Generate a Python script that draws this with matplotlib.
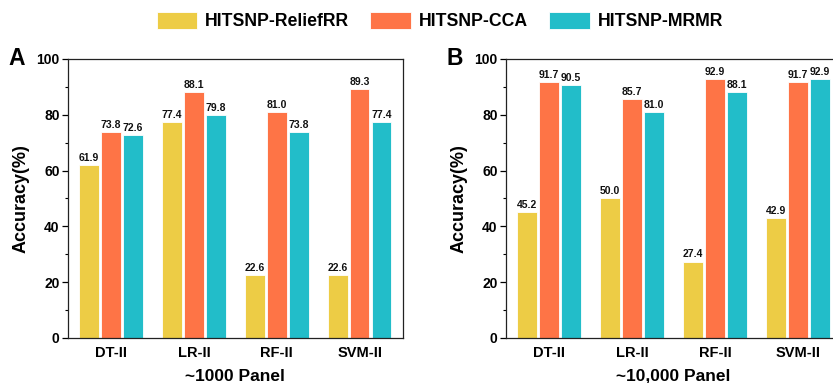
import numpy as np
import matplotlib
matplotlib.use("Agg")
import matplotlib.pyplot as plt
from matplotlib.ticker import MultipleLocator

plt.rcParams['font.family'] = ['Liberation Sans', 'DejaVu Sans']
plt.rcParams['font.weight'] = 'bold'

classifiers = ["DT-II", "LR-II", "RF-II", "SVM-II"]
methods = ["HITSNP-ReliefRR", "HITSNP-CCA", "HITSNP-MRMR"]
colors = ["#EDCC45", "#FE7446", "#22BDC9"]

panel_1000 = {
    "HITSNP-ReliefRR": [61.9, 77.4, 22.6, 22.6],
    "HITSNP-CCA": [73.8, 88.1, 81.0, 89.3],
    "HITSNP-MRMR": [72.6, 79.8, 73.8, 77.4],
}
panel_10000 = {
    "HITSNP-ReliefRR": [45.2, 50.0, 27.4, 42.9],
    "HITSNP-CCA": [91.7, 85.7, 92.9, 91.7],
    "HITSNP-MRMR": [90.5, 81.0, 88.1, 92.9],
}

fig = plt.figure(figsize=(8.33, 3.83), dpi=100)
ax_a = fig.add_axes([0.0816, 0.1175, 0.402, 0.7285])
ax_b = fig.add_axes([0.6075, 0.1175, 0.402, 0.7285])

x = np.arange(len(classifiers))
step = 0.265
width = 0.235


def draw_panel(ax, data, xlabel, letter):
    handles = []
    for i, m in enumerate(methods):
        vals = data[m]
        bars = ax.bar(x + (i - 1) * step, vals, width=width, color=colors[i],
                      edgecolor="white", linewidth=0.6, label=m, zorder=2)
        handles.append(bars)
        for xi, v in zip(x + (i - 1) * step, vals):
            ax.text(xi, v + 0.8, f"{v:.1f}", ha="center", va="bottom",
                    fontsize=7.5, fontweight="bold", color="#111111")
    ax.set_xlim(-0.52, 3.52)
    ax.set_ylim(0, 100)
    ax.set_xticks(x)
    ax.set_xticklabels(classifiers, fontsize=10.5, fontweight="bold")
    ax.yaxis.set_major_locator(MultipleLocator(20))
    ax.yaxis.set_minor_locator(MultipleLocator(10))
    ax.tick_params(axis="y", which="major", direction="out", length=4,
                   width=0.9, labelsize=10, pad=2)
    ax.tick_params(axis="y", which="minor", direction="out", length=2.5,
                   width=0.8)
    ax.tick_params(axis="x", which="major", length=0, pad=6)
    for lab in ax.get_yticklabels():
        lab.set_fontweight("bold")
    for s in ax.spines.values():
        s.set_linewidth(0.9)
        s.set_color("#222222")
    ax.set_ylabel("Accuracy(%)", fontsize=13, fontweight="bold", labelpad=5)
    ax.set_xlabel(xlabel, fontsize=12.5, fontweight="bold", labelpad=6)
    ax.text(-0.152, 1.0, letter, transform=ax.transAxes, fontsize=16.5,
            fontweight="bold", ha="center", va="center")
    return handles


handles = draw_panel(ax_a, panel_1000, "~1000 Panel", "A")
draw_panel(ax_b, panel_10000, "~10,000 Panel", "B")

fig.legend(handles, methods, loc="center", bbox_to_anchor=(0.528, 0.945),
           ncol=3, frameon=False, handlelength=2.3,
           handleheight=1.1, handletextpad=0.45, columnspacing=1.2,
           prop={"weight": "bold", "size": 12.7})

fig.savefig("out.png", dpi=100)
